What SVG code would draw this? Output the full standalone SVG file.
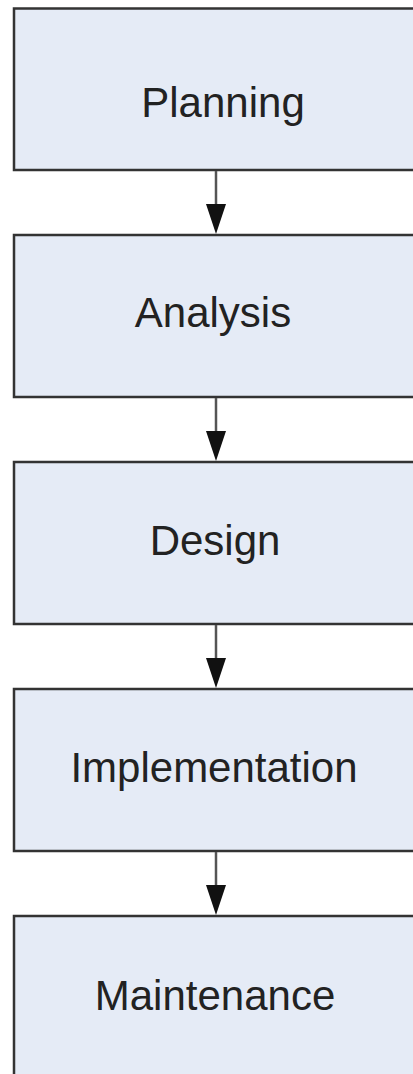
<svg xmlns="http://www.w3.org/2000/svg" width="413" height="1074" viewBox="0 0 413 1074">
<style>
.box{fill:#E5EBF6;stroke:#333;stroke-width:2.5}
.lbl{font-family:"Liberation Sans",Arial,sans-serif;font-size:42px;fill:#222;text-anchor:middle}
.conn{stroke:#555;stroke-width:2.5;fill:none}
.head{fill:#111}
</style>
<rect width="413" height="1074" fill="#fff"/>
<g id="planning"><rect class="box" x="14" y="8.5" width="420" height="161.5"/><text class="lbl" x="223" y="117">Planning</text></g>
<g id="analysis"><rect class="box" x="14" y="235" width="420" height="162"/><text class="lbl" x="213" y="327">Analysis</text></g>
<g id="design"><rect class="box" x="14" y="462" width="420" height="162"/><text class="lbl" x="215" y="555">Design</text></g>
<g id="implementation"><rect class="box" x="14" y="689" width="420" height="162"/><text class="lbl" x="214" y="782">Implementation</text></g>
<g id="maintenance"><rect class="box" x="14" y="916" width="420" height="200"/><text class="lbl" x="215" y="1010">Maintenance</text></g>
<g id="connectors">
<line class="conn" x1="216" y1="171" x2="216" y2="206"/><polygon class="head" points="206,204 226,204 216,234"/>
<line class="conn" x1="216" y1="398" x2="216" y2="433"/><polygon class="head" points="206,431 226,431 216,461"/>
<line class="conn" x1="216" y1="625" x2="216" y2="660"/><polygon class="head" points="206,658 226,658 216,688"/>
<line class="conn" x1="216" y1="852" x2="216" y2="887"/><polygon class="head" points="206,885 226,885 216,915"/>
</g>
</svg>
